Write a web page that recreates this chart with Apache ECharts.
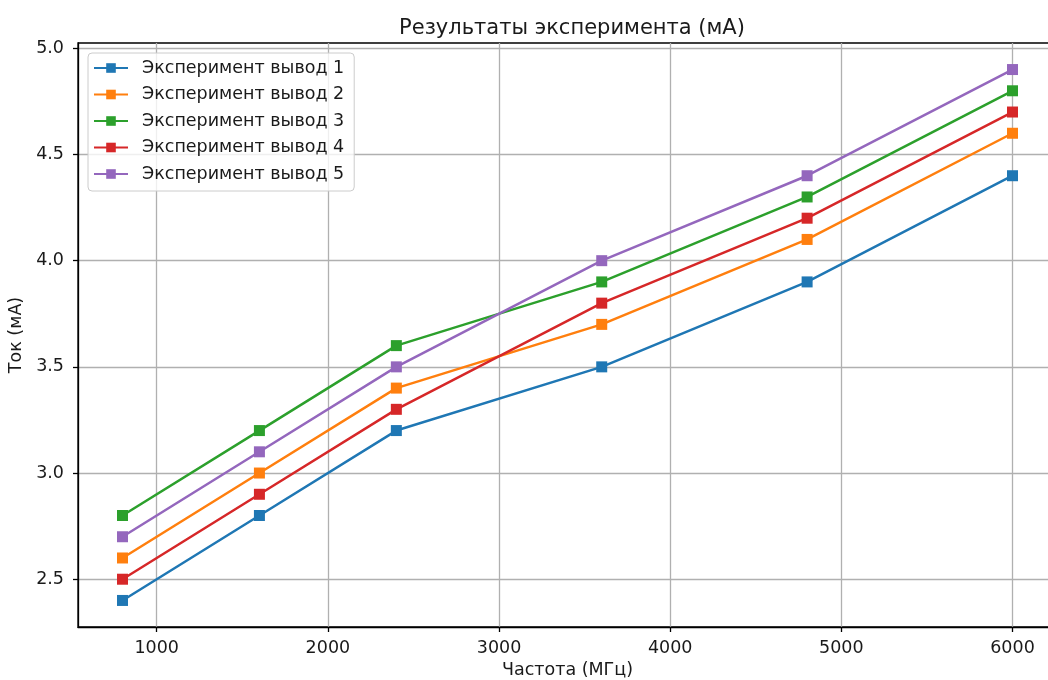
<!DOCTYPE html>
<html>
<head>
<meta charset="utf-8">
<script src="https://cdn.jsdelivr.net/npm/echarts@6/dist/echarts.min.js"></script>
<style>
html,body{margin:0;padding:0;background:#fff;}
#chart{width:1048px;height:680px;}
</style>
</head>
<body>
<div id="chart"></div>
<script>
const frequencies = [800, 1600, 2400, 3600, 4800, 6000];
const series1 = [2.4, 2.8, 3.2, 3.5, 3.9, 4.4];
const series2 = [2.6, 3.0, 3.4, 3.7, 4.1, 4.6];
const series3 = [2.8, 3.2, 3.6, 3.9, 4.3, 4.8];
const series4 = [2.5, 2.9, 3.3, 3.8, 4.2, 4.7];
const series5 = [2.7, 3.1, 3.5, 4.0, 4.4, 4.9];
const seriesNames = ['Эксперимент вывод 1', 'Эксперимент вывод 2', 'Эксперимент вывод 3', 'Эксперимент вывод 4', 'Эксперимент вывод 5'];
const xTicks = [1000, 2000, 3000, 4000, 5000, 6000];
const yTicks = [2.5, 3.0, 3.5, 4.0, 4.5, 5.0];

const colors = ['#1f77b4', '#ff7f0e', '#2ca02c', '#d62728', '#9467bd'];
const allSeries = [series1, series2, series3, series4, series5];
const font = 'DejaVu Sans';

const chart = echarts.init(document.getElementById('chart'), null, {renderer: 'canvas'});
chart.setOption({
  animation: false,
  backgroundColor: '#fff',
  color: colors,
  title: {
    text: 'Результаты эксперимента (мА)',
    left: 567,
    top: 13,
    textAlign: 'center',
    textStyle: {fontFamily: font, fontSize: 21, fontWeight: 'normal', color: '#1a1a1a'}
  },
  legend: {
    orient: 'vertical',
    left: 88,
    top: 53,
    padding: [6, 10, 8, 5],
    itemGap: 8.5,
    itemWidth: 34,
    itemHeight: 12,
    backgroundColor: 'rgba(255,255,255,0.8)',
    borderColor: '#cccccc',
    borderWidth: 1,
    borderRadius: 4,
    textStyle: {fontFamily: font, fontSize: 17.5, color: '#1a1a1a', lineHeight: 16, padding: [0, 0, 0, 9]},
    data: seriesNames
  },
  grid: {
    left: 78, top: 43, right: -9, bottom: 53,
    outerBoundsMode: 'none',
    containLabel: false,
    show: true, borderColor: '#000', borderWidth: 1.3, backgroundColor: 'transparent'
  },
  xAxis: {
    type: 'value',
    min: 540, max: 6260,
    name: 'Частота (МГц)',
    nameLocation: 'middle',
    nameGap: 34,
    nameTextStyle: {fontFamily: font, fontSize: 17.5, color: '#1a1a1a'},
    axisLine: {show: true, onZero: false, lineStyle: {color: '#000', width: 1.3}},
    axisTick: {show: true, length: 5, inside: false, customValues: xTicks, lineStyle: {color: '#000', width: 1.3}},
    axisLabel: {customValues: xTicks, margin: 12, fontFamily: font, fontSize: 17.5, color: '#1a1a1a',
      formatter: v => String(v)},
    splitLine: {show: true, lineStyle: {color: '#b0b0b0', width: 1.3}}
  },
  yAxis: {
    type: 'value',
    min: 2.275, max: 5.025,
    name: 'Ток (мА)',
    nameLocation: 'middle',
    nameGap: 47,
    nameTextStyle: {fontFamily: font, fontSize: 17.5, color: '#1a1a1a'},
    axisLine: {show: true, onZero: false, lineStyle: {color: '#000', width: 1.3}},
    axisTick: {show: true, length: 5, inside: false, customValues: yTicks, lineStyle: {color: '#000', width: 1.3}},
    axisLabel: {customValues: yTicks, margin: 14, fontFamily: font, fontSize: 17.5, color: '#1a1a1a',
      formatter: v => v.toFixed(1)},
    splitLine: {show: true, lineStyle: {color: '#b0b0b0', width: 1.3}}
  },
  series: allSeries.map((vals, i) => ({
    name: seriesNames[i],
    type: 'line',
    data: frequencies.map((f, j) => [f, vals[j]]),
    symbol: 'rect',
    symbolSize: 11,
    showSymbol: true,
    lineStyle: {width: 2.5, color: colors[i]},
    itemStyle: {color: colors[i]},
    z: 3 + i
  }))
});
</script>
</body>
</html>
